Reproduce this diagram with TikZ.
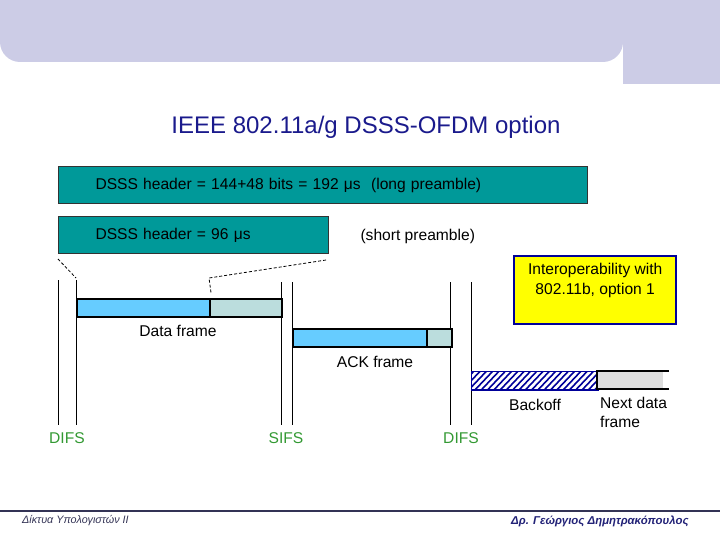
\documentclass[tikz,border=0pt]{standalone}
\usepackage{fontspec}
\setmainfont{Liberation Sans}
\setsansfont{Liberation Sans}
\usetikzlibrary{positioning}
\definecolor{BandLilac}{HTML}{CCCCE6}
\definecolor{TitleNavy}{HTML}{1A1A8C}
\definecolor{HdrTeal}{HTML}{009999}
\definecolor{FrameBlue}{HTML}{66CCFF}
\definecolor{FramePale}{HTML}{BBDDDD}
\definecolor{NextGray}{HTML}{DDDDDD}
\definecolor{IfsGreen}{HTML}{339933}
\definecolor{NoteYellow}{HTML}{FFFF00}
\definecolor{NoteBlue}{HTML}{000099}
\definecolor{FootInk}{HTML}{333355}
\definecolor{AuthorNavy}{HTML}{222277}
\tikzset{
  every node/.style={font=\fontsize{15.6}{19}\selectfont, text=black},
  header/.style={draw=black!80, line width=1pt, fill=HdrTeal, anchor=north west,
    inner xsep=37pt, inner ysep=0pt, align=left},
  segment/.style={draw=black, line width=2.2pt, anchor=north west, inner sep=0pt,
    minimum height=18pt},
  gap/.style={draw=black, line width=0.9pt},
  zoomline/.style={draw=black, line width=0.8pt, dashed, dash pattern=on 3pt off 2pt},
  ifs/.style={text=IfsGreen},
  hatchline/.style={draw=NoteBlue, line width=1.6pt},
}

\begin{document}
\begin{tikzpicture}[x=1pt,y=-1pt]
  \useasboundingbox (0,0) rectangle (720,540);

  % Top band
  \fill[BandLilac] (0,0) [rounded corners=20pt] -- (0,62) -- (623,62) [sharp corners] -- (623,0) -- cycle;
  \fill[BandLilac] (623,0) rectangle (720,84);

  % Title
  \node[font=\fontsize{24}{28}\selectfont, text=TitleNavy] (title) at (366,127) {IEEE 802.11a/g DSSS-OFDM option};

  % DSSS headers
  \node[header, text width=455pt, minimum height=37pt] (longhdr) at (58,166)
    {DSSS header = 144+48 bits = 192 μs\ \ (long preamble)};
  \node[header, text width=196pt, minimum height=37pt] (shorthdr) at (58,216)
    {DSSS header = 96 μs};
  \node[anchor=west] (shortnote) at (357,236) {(short preamble)};

  % Interoperability note
  \node[draw=NoteBlue, line width=2.4pt, fill=NoteYellow, anchor=north west,
    minimum width=162pt, minimum height=68pt, inner sep=0pt] (note) at (513,255) {};
  \node[align=center, font=\fontsize{15.6}{20}\selectfont, below=5pt of note.north] (notetext)
    {Interoperability with\\802.11b, option 1};

  % Time gaps
  \draw[gap] (58,280) -- (58,425);
  \draw[gap] (76,280) -- (76,425);
  \draw[gap] (281,282) -- (281,425);
  \draw[gap] (292,282) -- (292,425);
  \draw[gap] (450,282) -- (450,425);
  \draw[gap] (471,282) -- (471,425);

  % Data frame
  \node[segment, fill=FrameBlue, minimum width=133pt] (databody) at (76,298) {};
  \node[segment, fill=FramePale, minimum width=72pt] (datatail) at (209,298) {};
  \node (datalbl) at (178,331) {Data frame};

  % Zoom of the short header onto the data frame
  \coordinate (zoomL) at (76,278);
  \coordinate (zoomR) at (209,278);
  \draw[zoomline] ([yshift=-5pt]shorthdr.south west) -- (zoomL);
  \draw[zoomline] ([xshift=-3pt,yshift=-6pt]shorthdr.south east) -- (zoomR) -- ([yshift=4pt]databody.north east);

  % ACK frame
  \node[segment, fill=FrameBlue, minimum width=134pt] (ackbody) at (292,328) {};
  \node[segment, fill=FramePale, minimum width=25pt] (acktail) at (426,328) {};
  \node (acklbl) at (375,362) {ACK frame};

  % Backoff
  \node[draw=NoteBlue, line width=1pt, anchor=north west, inner sep=0pt,
    minimum width=126pt, minimum height=18pt] (backoff) at (471,371) {};
  \begin{scope}
    \clip (471,371) rectangle (597,389);
    \foreach \i in {456,462.3,...,600}
      \draw[hatchline] (\i,390) -- ++(19,-20);
  \end{scope}
  \draw[NoteBlue, line width=1pt] (backoff.north west) rectangle (backoff.south east);
  \node (backlbl) at (535,405) {Backoff};

  % Next data frame
  \fill[NextGray] (597,371) rectangle (663,389);
  \draw[black, line width=2.4pt] (669,371) -- (597,371) -- (597,389) -- (669,389);
  \node[anchor=north west, align=left, inner sep=0pt] (nextlbl) at (600,397)
    {Next data\\frame};

  % Interframe spaces
  \node[ifs] (difsA) at (67,438) {DIFS};
  \node[ifs] (sifs) at (286,438) {SIFS};
  \node[ifs] (difsB) at (461,438) {DIFS};

  % Footer
  \draw[FootInk, line width=1.4pt] (0,511) -- (720,511);
  \node[anchor=west, inner sep=0pt, font=\fontsize{10.8}{12}\selectfont\itshape, text=FootInk] (course) at (22,521)
    {Δίκτυα Υπολογιστών ΙΙ};
  \node[anchor=west, inner sep=0pt, font=\fontsize{11.4}{13}\selectfont\bfseries\itshape, text=AuthorNavy] (author) at (511,521)
    {Δρ. Γεώργιος Δημητρακόπουλος};
\end{tikzpicture}
\end{document}
